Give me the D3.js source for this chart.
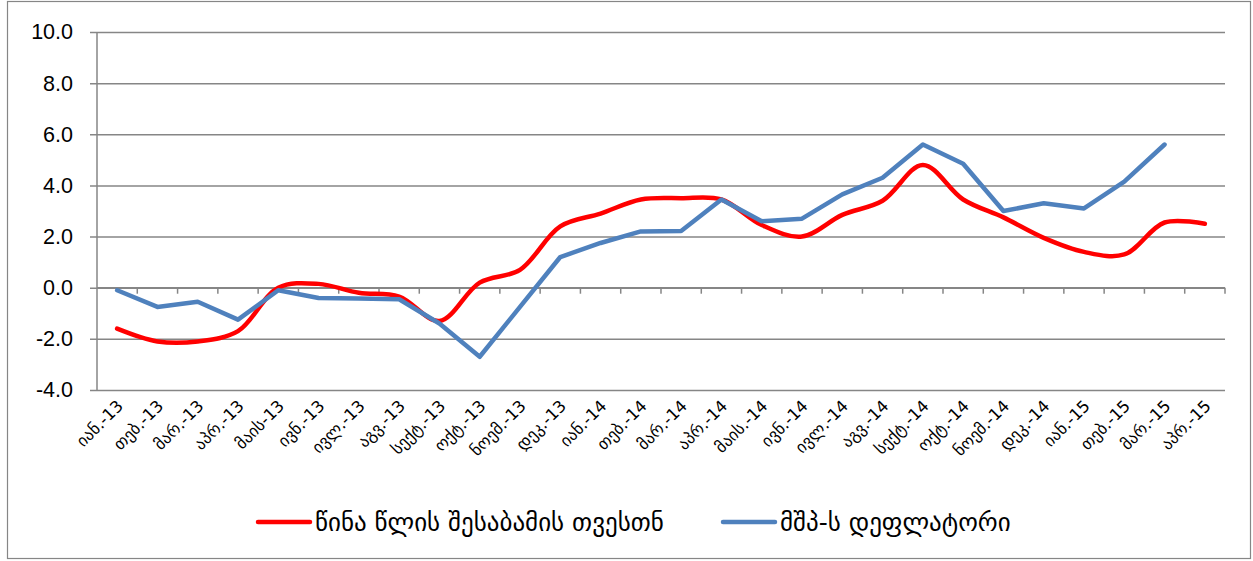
<!DOCTYPE html>
<html><head><meta charset="utf-8">
<script src="https://cdn.jsdelivr.net/npm/d3@7"></script>
<style>body{margin:0;background:#fff}</style>
</head><body>
<svg id="c" width="1253" height="561"></svg>
<script>
const categories = ["იან.-13","თებ.-13","მარ.-13","აპრ.-13","მაის-13","ივნ.-13","ივლ.-13","აგვ.-13","სექტ.-13","ოქტ.-13","ნოემ.-13","დეკ.-13",
"იან.-14","თებ.-14","მარ.-14","აპრ.-14","მაის.-14","ივნ.-14","ივლ.-14","აგვ.-14","სექტ.-14","ოქტ.-14","ნოემ.-14","დეკ.-14",
"იან.-15","თებ.-15","მარ.-15","აპრ.-15"];
const yoy = [-1.6,-2.1,-2.1,-1.7,0.0,0.15,-0.2,-0.35,-1.3,0.2,0.7,2.4,2.9,3.45,3.5,3.45,2.45,2.0,2.85,3.4,4.8,3.45,2.75,1.95,1.4,1.3,2.55,2.5];
const deflator = [-0.1,-0.75,-0.55,-1.25,-0.1,-0.4,-0.42,-0.45,-1.4,-2.7,-0.75,1.2,1.75,2.2,2.22,3.45,2.6,2.7,3.65,4.3,5.6,4.85,3.0,3.3,3.1,4.15,5.6,null];
const yTicks = [-4,-2,0,2,4,6,8,10];
const legendLabels = ["წინა წლის შესაბამის თვესთნ","მშპ-ს დეფლატორი"];

const svg = d3.select("#c");
const L=97, R=1225, T=32, B=390;
const y = d3.scaleLinear().domain([-4,10]).range([B,T]);
const xb = d3.scaleBand().domain(categories).range([L,R]);
const x = d => xb(d)+xb.bandwidth()/2;
const grid="#868686";
const font="'Liberation Sans','DejaVu Sans',sans-serif";

svg.append("rect").attr("x",7.5).attr("y",1.5).attr("width",1243).attr("height",557).attr("fill","none").attr("stroke",grid).attr("stroke-width",1.2);

// gridlines + y tick labels
const fmt = d => d3.format(".1f")(d).replace("\u2212","-");
const yAxis = d3.axisLeft(y).tickValues(yTicks).tickFormat(fmt).tickSize(-(R-L)-7).tickSizeOuter(0).tickPadding(17);
const gy = svg.append("g").attr("transform",`translate(${L-7},0)`).call(yAxis);
gy.select(".domain").remove();
gy.selectAll(".tick line").attr("stroke",grid).attr("stroke-width",1.5);
gy.selectAll(".tick text").attr("font-family",font).attr("font-size",21.5).attr("fill","#000");
svg.append("line").attr("x1",L).attr("x2",L).attr("y1",T).attr("y2",B).attr("stroke",grid).attr("stroke-width",1.5);

// x axis at zero
const gx = svg.append("g").attr("transform",`translate(0,${y(0)})`);
gx.append("line").attr("x1",L).attr("x2",R).attr("stroke",grid).attr("stroke-width",1.5);
const bounds = categories.map(c=>xb(c)+xb.bandwidth());
gx.selectAll(".tk").data(bounds).join("line").attr("x1",d=>d).attr("x2",d=>d).attr("y1",0).attr("y2",6).attr("stroke",grid).attr("stroke-width",1.5);

// x labels
svg.append("g").selectAll("text").data(categories).join("text")
  .attr("transform",d=>`translate(${x(d)+7},${B+17}) rotate(-45)`)
  .attr("text-anchor","end").attr("font-family","'DejaVu Sans',sans-serif").attr("font-size",16.5).attr("fill","#000")
  .text(d=>d);

// lines
const lineRed = d3.line().x((d,i)=>x(categories[i])).y(d=>y(d)).curve(d3.curveCatmullRom.alpha(0.5));
svg.append("path").attr("d",lineRed(yoy)).attr("fill","none").attr("stroke","#FF0000").attr("stroke-width",4.5).attr("stroke-linecap","round").attr("stroke-linejoin","round");
const lineBlue = d3.line().defined(d=>d!=null).x((d,i)=>x(categories[i])).y(d=>y(d));
svg.append("path").attr("d",lineBlue(deflator)).attr("fill","none").attr("stroke","#4F81BD").attr("stroke-width",4.5).attr("stroke-linecap","round").attr("stroke-linejoin","round");

// legend
const leg = [{t:legendLabels[0],c:"#FF0000",x:258},{t:legendLabels[1],c:"#4F81BD",x:723}];
const lg = svg.append("g");
leg.forEach(l=>{
  lg.append("line").attr("x1",l.x).attr("x2",l.x+52).attr("y1",522).attr("y2",522).attr("stroke",l.c).attr("stroke-width",4.5).attr("stroke-linecap","round");
  lg.append("text").attr("x",l.x+57).attr("y",531).attr("font-family","'DejaVu Sans',sans-serif").attr("font-size",25).attr("fill","#000").text(l.t);
});
</script>
</body></html>
